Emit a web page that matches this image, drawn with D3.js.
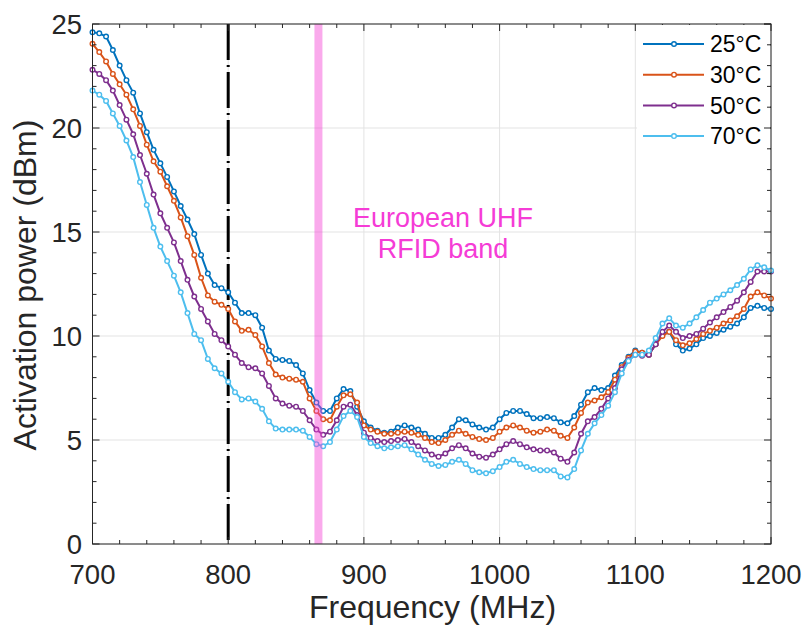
<!DOCTYPE html>
<html>
<head>
<meta charset="utf-8">
<script src="https://cdn.jsdelivr.net/npm/d3@7"></script>
<style>
  body { margin: 0; background: #fff; }
  svg { font-family: "Liberation Sans", Arial, sans-serif; }
</style>
</head>
<body>
<svg id="chart" width="806" height="630"></svg>
<script>
// frequency axis, 5 MHz steps from 700 to 1200
const freqStart = 700;
const freqStep = 5;

const p25 = [24.6, 24.55, 24.4, 23.75, 23.0, 22.3, 21.7, 20.7, 19.8, 18.95,
  18.3, 17.65, 16.95, 16.25, 15.6, 14.9, 13.9, 13.0, 12.45, 12.3,
  12.1, 11.6, 11.1, 11.1, 11.0, 10.4, 9.3, 8.9, 8.85, 8.8,
  8.6, 8.2, 7.4, 6.8, 6.4, 6.4, 7.0, 7.45, 7.35, 6.6,
  5.9, 5.6, 5.45, 5.35, 5.4, 5.6, 5.7, 5.6, 5.5, 5.3,
  5.1, 5.1, 5.25, 5.6, 6.0, 5.95, 5.75, 5.6, 5.5, 5.6,
  6.0, 6.3, 6.4, 6.4, 6.25, 6.05, 6.05, 6.1, 6.05, 5.85,
  5.8, 6.15, 6.7, 7.3, 7.5, 7.4, 7.5, 8.1, 8.6, 9.0,
  9.3, 9.2, 9.1, 9.6, 10.1, 10.2, 9.6, 9.3, 9.4, 9.6,
  9.9, 10.0, 10.15, 10.3, 10.45, 10.6, 10.9, 11.35, 11.45, 11.35,
  11.3];

const p30 = [24.05, 23.65, 23.2, 22.6, 22.1, 21.6, 20.9, 20.1, 19.2, 18.4,
  17.9, 17.2, 16.5, 15.7, 14.8, 13.9, 12.8, 11.95, 11.65, 11.5,
  11.3, 10.7, 10.25, 10.3, 10.05, 9.5, 8.7, 8.15, 8.0, 7.95,
  7.9, 7.8, 7.0, 6.4, 6.0, 5.95, 6.6, 7.15, 7.2, 6.8,
  5.7, 5.5, 5.4, 5.3, 5.3, 5.35, 5.4, 5.35, 5.25, 5.1,
  4.9, 4.85, 5.0, 5.25, 5.45, 5.3, 5.15, 5.05, 5.0, 5.1,
  5.4, 5.6, 5.7, 5.6, 5.45, 5.35, 5.4, 5.5, 5.45, 5.2,
  5.1, 5.6, 6.3, 6.8, 6.9, 7.05, 7.3, 7.9, 8.5, 8.95,
  9.25, 9.2, 9.1, 9.6, 10.0, 10.2, 9.8, 9.55, 9.65, 9.85,
  10.1, 10.25, 10.4, 10.6, 10.75, 10.95, 11.3, 11.9, 12.1, 11.95,
  11.8];

const p50 = [22.8, 22.6, 22.3, 21.8, 21.1, 20.4, 19.7, 18.7, 17.8, 16.8,
  15.9, 15.2, 14.5, 13.6, 12.7, 11.9, 11.3, 10.7, 10.1, 9.8,
  9.5, 9.1, 8.7, 8.5, 8.45, 8.2, 7.6, 7.0, 6.75, 6.65,
  6.6, 6.4, 5.95, 5.5, 5.25, 5.4, 5.95, 6.6, 6.7, 6.2,
  5.35, 5.1, 4.95, 4.9, 4.95, 5.0, 5.05, 4.9, 4.7, 4.5,
  4.3, 4.2, 4.35, 4.6, 4.75, 4.6, 4.35, 4.2, 4.15, 4.3,
  4.55, 4.8, 4.95, 4.8, 4.65, 4.55, 4.5, 4.5, 4.4, 4.1,
  3.95, 4.4, 5.3, 5.9, 6.1, 6.5, 7.0, 7.5, 8.4, 8.85,
  9.1, 9.05, 9.1, 9.6, 10.2, 10.5, 10.2, 9.9, 10.0, 10.1,
  10.35, 10.65, 10.9, 11.15, 11.4, 11.7, 12.1, 12.6, 13.1, 13.1,
  13.1];

const p70 = [21.8, 21.6, 21.3, 20.7, 20.1, 19.4, 18.6, 17.4, 16.3, 15.2,
  14.3, 13.6, 12.9, 12.1, 11.1, 10.1, 9.8, 8.9, 8.45, 8.2,
  7.8, 7.3, 6.95, 7.0, 6.85, 6.5, 5.9, 5.55, 5.5, 5.5,
  5.5, 5.45, 5.15, 4.8, 4.7, 4.9, 5.5, 6.15, 6.4, 6.1,
  5.15, 4.85, 4.7, 4.6, 4.65, 4.7, 4.75, 4.55, 4.3, 4.05,
  3.85, 3.75, 3.8, 3.95, 4.05, 3.85, 3.55, 3.45, 3.4, 3.5,
  3.7, 3.95, 4.05, 3.85, 3.7, 3.6, 3.55, 3.55, 3.55, 3.25,
  3.2, 3.6, 4.5, 5.3, 5.8, 6.2, 6.65, 7.3, 8.2, 8.8,
  9.1, 9.1, 9.3, 9.9, 10.6, 10.85, 10.5, 10.4, 10.6, 10.9,
  11.25, 11.6, 11.8, 12.0, 12.2, 12.45, 12.75, 13.2, 13.4, 13.3,
  13.15];

const seriesNames = ["25°C", "30°C", "50°C", "70°C"];
const seriesColors = ["#0072BD", "#D95319", "#7E2F8E", "#4DBEEE"];
const xTicks = [700, 800, 900, 1000, 1100, 1200];
const yTicks = [0, 5, 10, 15, 20, 25];
const markerFreq = 800;
const bandFreq = 866.5;
const bandLabel = ["European UHF", "RFID band"];

const svg = d3.select("#chart");
const mLeft = 92.5, mRight = 771, mTop = 24, mBottom = 544;
const axisColor = "#262626";

const x = d3.scaleLinear().domain([700, 1200]).range([mLeft, mRight]);
const y = d3.scaleLinear().domain([0, 25]).range([mBottom, mTop]);

const allSeries = [p25, p30, p50, p70].map((vals, i) => ({
  name: seriesNames[i],
  color: seriesColors[i],
  points: vals.map((v, j) => ({ f: freqStart + j * freqStep, v: v }))
}));

// grid
svg.append("g")
  .selectAll("line")
  .data(xTicks)
  .join("line")
  .attr("x1", d => x(d)).attr("x2", d => x(d))
  .attr("y1", mTop).attr("y2", mBottom)
  .attr("stroke", "#e3e3e3").attr("stroke-width", 1);
svg.append("g")
  .selectAll("line")
  .data(yTicks)
  .join("line")
  .attr("x1", mLeft).attr("x2", mRight)
  .attr("y1", d => y(d)).attr("y2", d => y(d))
  .attr("stroke", "#e3e3e3").attr("stroke-width", 1);

// dash-dot line at 800 MHz
svg.append("line")
  .attr("x1", x(markerFreq)).attr("x2", x(markerFreq))
  .attr("y1", mTop).attr("y2", mBottom)
  .attr("stroke", "#000").attr("stroke-width", 3)
  .attr("stroke-dasharray", "36,5,2,5");

// data lines
const line = d3.line().x(d => x(d.f)).y(d => y(d.v));
allSeries.forEach(s => {
  const g = svg.append("g");
  g.append("path")
    .datum(s.points)
    .attr("d", line)
    .attr("fill", "none")
    .attr("stroke", s.color)
    .attr("stroke-width", 2);
  g.selectAll("circle")
    .data(s.points)
    .join("circle")
    .attr("cx", d => x(d.f))
    .attr("cy", d => y(d.v))
    .attr("r", 2.3)
    .attr("fill", "#fff")
    .attr("stroke", s.color)
    .attr("stroke-width", 1.4);
});

// RFID band
svg.append("line")
  .attr("x1", x(bandFreq)).attr("x2", x(bandFreq))
  .attr("y1", mTop).attr("y2", mBottom)
  .attr("stroke", "#f542d4").attr("stroke-opacity", 0.45)
  .attr("stroke-width", 8);

svg.append("text")
  .attr("x", 443).attr("y", 226.5)
  .attr("text-anchor", "middle")
  .attr("font-size", 27)
  .attr("fill", "#f53cd6")
  .selectAll("tspan")
  .data(bandLabel)
  .join("tspan")
  .attr("x", 443)
  .attr("dy", (d, i) => i === 0 ? 0 : 31.5)
  .text(d => d);

// box with inward ticks
svg.append("rect")
  .attr("x", mLeft).attr("y", mTop)
  .attr("width", mRight - mLeft).attr("height", mBottom - mTop)
  .attr("fill", "none").attr("stroke", axisColor).attr("stroke-width", 1);

const minorX = d3.range(700, 1201, 20);
const minorY = d3.range(0, 26, 1);
const tickG = svg.append("g").attr("stroke", axisColor).attr("stroke-width", 1);
minorX.forEach(f => {
  const len = f % 100 === 0 ? 7 : 4;
  tickG.append("line").attr("x1", x(f)).attr("x2", x(f)).attr("y1", mBottom).attr("y2", mBottom - len);
  tickG.append("line").attr("x1", x(f)).attr("x2", x(f)).attr("y1", mTop).attr("y2", mTop + len);
});
minorY.forEach(v => {
  const len = v % 5 === 0 ? 7 : 4;
  tickG.append("line").attr("x1", mLeft).attr("x2", mLeft + len).attr("y1", y(v)).attr("y2", y(v));
  tickG.append("line").attr("x1", mRight).attr("x2", mRight - len).attr("y1", y(v)).attr("y2", y(v));
});

// tick labels
svg.append("g")
  .selectAll("text")
  .data(xTicks)
  .join("text")
  .attr("x", d => x(d))
  .attr("y", 584)
  .attr("text-anchor", "middle")
  .attr("font-size", 27.5)
  .attr("fill", axisColor)
  .text(d => d);
svg.append("g")
  .selectAll("text")
  .data(yTicks)
  .join("text")
  .attr("x", 82)
  .attr("y", d => y(d))
  .attr("dy", "0.35em")
  .attr("text-anchor", "end")
  .attr("font-size", 27.5)
  .attr("fill", axisColor)
  .text(d => d);

// axis labels
svg.append("text")
  .attr("x", 432.5).attr("y", 618)
  .attr("text-anchor", "middle")
  .attr("font-size", 32)
  .attr("fill", axisColor)
  .text("Frequency (MHz)");
svg.append("text")
  .attr("transform", "translate(36, 285) rotate(-90)")
  .attr("text-anchor", "middle")
  .attr("font-size", 32)
  .attr("fill", axisColor)
  .text("Activation power (dBm)");

// legend
const legend = svg.append("g");
legend.append("rect")
  .attr("x", 637).attr("y", mTop + 1)
  .attr("width", mRight - 637 - 1).attr("height", 130)
  .attr("fill", "#fff");
allSeries.forEach((s, i) => {
  const ly = 44 + i * 30.7;
  legend.append("line")
    .attr("x1", 643).attr("x2", 704)
    .attr("y1", ly).attr("y2", ly)
    .attr("stroke", s.color).attr("stroke-width", 2);
  legend.append("circle")
    .attr("cx", 674).attr("cy", ly).attr("r", 2.3)
    .attr("fill", "#fff").attr("stroke", s.color).attr("stroke-width", 1.4);
  legend.append("text")
    .attr("x", 710).attr("y", ly)
    .attr("dy", "0.36em")
    .attr("font-size", 23)
    .attr("fill", "#000")
    .text(s.name);
});
// redraw right-side ticks over legend
minorY.filter(v => y(v) < mTop + 131).forEach(v => {
  const len = v % 5 === 0 ? 7 : 4;
  legend.append("line").attr("x1", mRight).attr("x2", mRight - len).attr("y1", y(v)).attr("y2", y(v))
    .attr("stroke", axisColor);
});
</script>
</body>
</html>
